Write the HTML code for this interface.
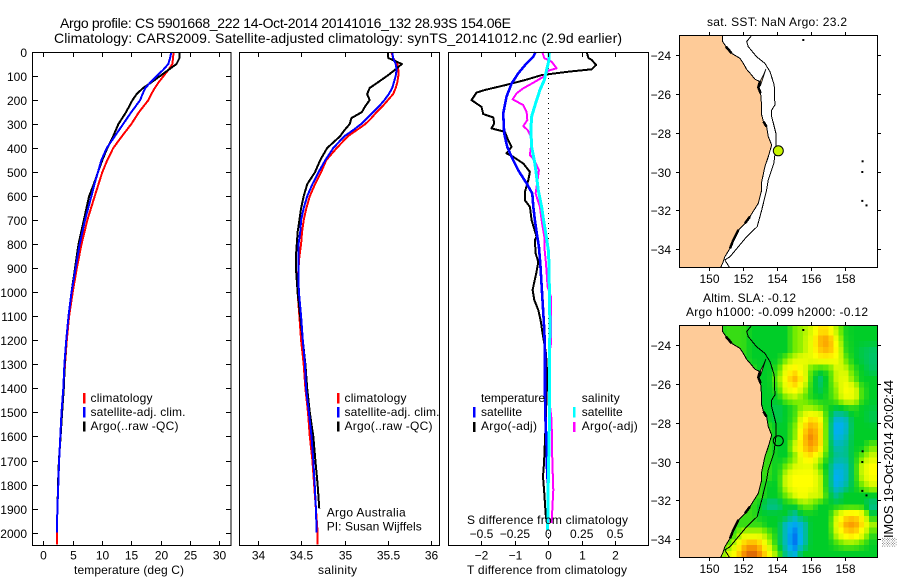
<!DOCTYPE html>
<html lang="en">
<head>
<meta charset="utf-8">
<title>Argo profile</title>
<style>
html,body{margin:0;padding:0;background:#fff;}
svg{display:block;}
text{font-family:"Liberation Sans",sans-serif;font-size:12px;fill:#000;}
</style>
</head>
<body>
<svg id="fig" xmlns="http://www.w3.org/2000/svg" width="900" height="580" viewBox="0 0 900 580">
<defs>
  <clipPath id="clipMapA"><rect x="679.5" y="35.5" width="198" height="232"/></clipPath>
  <clipPath id="clipMapB"><rect x="679.5" y="325.5" width="198" height="232"/></clipPath>
</defs>
<rect width="900" height="580" fill="#fff"/>

<text x="60" y="28" style="font-size:14px" textLength="451">Argo profile: CS 5901668_222 14-Oct-2014 20141016_132 28.93S 154.06E</text>
<text x="54" y="43" style="font-size:14px" textLength="568">Climatology: CARS2009. Satellite-adjusted climatology: synTS_20141012.nc (2.9d earlier)</text>

<g id="panelT"></g>
<g id="panelS"></g>
<g id="panelD"></g>
<g id="mapA"></g>
<g id="mapB"></g>

<text x="74" y="574" textLength="110">temperature (deg C)</text>
<text x="318" y="574" textLength="39">salinity</text>
<text x="467" y="574" textLength="160">T difference from climatology</text>
<text x="467" y="524" textLength="161">S difference from climatology</text>

<g>
  <rect x="83" y="393" width="2.5" height="10.5" fill="#f00"/>
  <rect x="83" y="407" width="2.5" height="10.5" fill="#00f"/>
  <rect x="83" y="421.5" width="2.5" height="10" fill="#000"/>
  <text x="90.5" y="402" textLength="62">climatology</text>
  <text x="90.5" y="416" textLength="95">satellite-adj. clim.</text>
  <text x="90.5" y="430" textLength="88">Argo(..raw -QC)</text>
</g>
<g>
  <rect x="337" y="393" width="2.5" height="10.5" fill="#f00"/>
  <rect x="337" y="407" width="2.5" height="10.5" fill="#00f"/>
  <rect x="337" y="421.5" width="2.5" height="10" fill="#000"/>
  <text x="344.5" y="402" textLength="62">climatology</text>
  <text x="344.5" y="416" textLength="95">satellite-adj. clim.</text>
  <text x="344.5" y="430" textLength="88">Argo(..raw -QC)</text>
</g>
<text x="326.7" y="516.5" textLength="79">Argo Australia</text>
<text x="326.7" y="530.5" textLength="95">PI: Susan Wijffels</text>
<g>
  <text x="481" y="402" textLength="64">temperature</text>
  <text x="581.7" y="402" textLength="38">salinity</text>
  <rect x="473" y="407" width="2.5" height="10.5" fill="#00f"/>
  <rect x="473" y="422" width="2.5" height="10" fill="#000"/>
  <rect x="573" y="407" width="2.5" height="10.5" fill="#0ff"/>
  <rect x="573" y="422" width="2.5" height="10" fill="#f0f"/>
  <text x="481" y="416" textLength="41">satellite</text>
  <text x="481" y="430" textLength="56">Argo(-adj)</text>
  <text x="581.7" y="416" textLength="41">satellite</text>
  <text x="581.7" y="430" textLength="56">Argo(-adj)</text>
</g>

<text x="707" y="26" textLength="140">sat. SST: NaN  Argo: 23.2</text>
<text x="703" y="302" textLength="93">Altim. SLA: -0.12</text>
<text x="686" y="316" textLength="182">Argo h1000: -0.099 h2000: -0.12</text>
<text transform="translate(893,547) rotate(-90)" textLength="167" style="font-size:13px">░IMOS 19-Oct-2014 20:02:44</text>

<script>
// ---------- profile data ----------
const tempDepths = [0,25,50,75,100,125,150,175,200,250,300,350,400,450,500,550,600,700,800,900,1000,1100,1200,1300,1400,1500,1600,1700,1800,1900,2000,2050];
const tempClim   = [22.2,22.1,22.0,21.3,20.5,19.7,19.0,18.4,17.9,16.3,15.0,13.4,11.9,10.9,10.05,9.4,8.75,7.5,6.5,5.7,5.0,4.4,4.0,3.7,3.45,3.1,2.9,2.7,2.55,2.4,2.3,2.3];
const tempSat    = [21.8,21.6,21.3,20.4,19.3,18.3,17.4,16.9,16.5,15.0,13.6,12.2,10.8,9.9,9.3,8.7,8.2,7.1,6.2,5.5,4.8,4.3,3.9,3.6,3.4,3.1,2.9,2.7,2.55,2.4,2.3,null];
const tempArgo   = [23.2,23.2,22.7,21.3,19.9,18.5,17.0,15.9,15.2,14.1,12.8,11.9,10.9,10.05,9.3,8.6,7.8,6.9,6.0,5.4,4.8,4.3,3.9,3.65,3.5,3.2,2.95,2.65,2.5,2.42,null,null];
const tempTicks  = [0,5,10,15,20,25,30];
const depthTicks = [0,100,200,300,400,500,600,700,800,900,1000,1100,1200,1300,1400,1500,1600,1700,1800,1900,2000];

const salDepths = [0,25,50,75,100,125,150,175,200,225,250,275,300,325,350,400,450,500,550,600,650,700,750,800,850,900,950,1000,1100,1200,1300,1400,1500,1600,1700,1800,1900,2000,2050];
const salClim   = [35.54,35.56,35.61,35.62,35.62,35.61,35.59,35.56,35.5,35.44,35.37,35.31,35.24,35.14,35.04,34.91,34.79,34.73,34.66,34.6,34.56,34.53,34.51,34.5,34.48,34.47,34.46,34.46,34.48,34.5,34.53,34.55,34.58,34.6,34.63,34.65,34.67,34.69,34.69];
const salSat    = [35.55,35.56,35.59,35.6,35.59,35.57,35.55,35.51,35.46,35.4,35.33,35.26,35.19,35.1,35.0,34.87,34.78,34.70,34.63,34.57,34.53,34.5,34.49,34.47,34.47,34.47,34.47,34.475,34.5,34.52,34.545,34.556,34.59,34.62,34.64,34.657,34.67,34.68,null];
const salArgo   = [35.5,35.505,35.66,35.58,35.49,35.39,35.29,35.26,35.29,35.24,35.2,35.08,35.06,35.0,34.95,34.8,34.72,34.66,34.57,34.53,34.5,34.48,34.46,34.45,34.44,34.44,34.45,34.46,34.49,34.52,34.55,34.57,34.6,34.64,34.665,34.69,34.71,null,null];
const salTicks  = [34,34.5,35,35.5,36];
const salTickLabels = ["34","34.5","35","35.5","36"];

const dtArgoDepths = [0,25,33,54,72,82,96,117,138,158,169,200,228,258,272,297,318,332,367,394,422,436,464,499,533,582,617,644,700,769,783,838,873,914,990,1032,1074,1116,1172,1255,1352,1500,1615,1712,1767,1836,1920,1955];
const dtArgo       = [1.15,1.2,1.3,1.43,1.3,0.6,-0.2,-0.7,-1.3,-1.9,-2.15,-2.3,-2,-1.95,-1.65,-1.62,-1.7,-1.3,-1.2,-1.1,-1.25,-1.05,-0.75,-0.55,-0.6,-0.7,-0.7,-0.55,-0.5,-0.35,-0.4,-0.38,-0.3,-0.35,-0.47,-0.42,-0.3,-0.23,-0.17,-0.07,-0.03,-0.07,-0.1,-0.13,-0.16,-0.12,-0.08,-0.05];
const dtSatDepths  = [0,19,47,89,131,186,256,339,394,436,492,547,589,644,700,769,810,880,1019,1157,1254,1435,1545,1642,1698,1781,1955];
const dtSat        = [-0.38,-0.45,-0.65,-0.9,-1.1,-1.25,-1.35,-1.32,-1.23,-1.1,-0.9,-0.65,-0.48,-0.45,-0.4,-0.33,-0.28,-0.24,-0.18,-0.12,-0.1,-0.1,-0.08,-0.05,-0.05,-0.02,0];
const dsArgoDepths = [0,26,40,68,78,103,124,151,172,197,221,249,283,308,325,353,394,429,450,492,533,589,644,700,769,810,880,977,1019,1213,1254,1448,1531,1698,1823,1961];
const dsArgo       = [-0.045,-0.03,0.025,0.0625,0,-0.0375,-0.1,-0.1875,-0.2375,-0.2675,-0.1875,-0.1625,-0.1575,-0.1875,-0.155,-0.13,-0.13,-0.1375,-0.105,-0.07,-0.08,-0.095,-0.0625,-0.05,-0.03,-0.03,-0.0175,-0.005,0.02,0.02,0.0075,0.0075,0.025,0.03,0.0375,0.025];
const dsSatDepths  = [0,33,75,117,158,214,269,325,394,464,519,575,644,700,769,824,880,977,1157,1254,1435,1504,1781,1989];
const dsSat        = [0.0075,0.005,-0.0125,-0.03,-0.0625,-0.095,-0.125,-0.13,-0.125,-0.1,-0.0875,-0.075,-0.05,-0.035,-0.015,0,0.005,0.0075,0.0125,0.0075,0.0075,0.01,0,-0.005];
const dtTicks = [-2,-1,0,1,2];
const dtTickLabels = ["−2","−1","0","1","2"];
const dsTicks = [-0.5,-0.25,0,0.25,0.5];
const dsTickLabels = ["−0.5","−0.25","0","0.25","0.5"];

// ---------- map data ----------
const lonTicks = [150,152,154,156,158];
const latTicks = [-24,-26,-28,-30,-32,-34];
const coastLon = [150.76,150.78,150.98,151.31,151.80,152.0,152.2,152.49,152.69,152.98,152.88,153.02,153.08,153.08,153.18,153.37,153.47,153.67,153.47,153.27,153.08,153.08,152.88,152.63,152.39,152.10,151.71,151.41,151.22,150.92,150.78,150.67];
const coastLat = [-22.99,-23.31,-23.57,-23.91,-24.17,-24.43,-24.74,-25.03,-25.25,-25.37,-25.66,-25.97,-26.66,-27.09,-27.43,-27.69,-28.2,-28.63,-29.23,-29.75,-30.52,-30.95,-31.63,-31.98,-32.32,-32.66,-33.0,-33.52,-33.95,-34.38,-34.72,-34.93];
const roughStart = [2,9,14,24,26];
const roughEnd   = [3,11,15,25,28];
const islandLon = [153.33,153.15,153.0,153.02,153.2];
const islandLat = [-24.72,-25.2,-25.6,-25.3,-25.0];
const contourLon = [152.49,152.2,152.29,152.78,153.27,153.57,153.82,153.86,153.67,153.67,153.92,153.92,153.8,153.47,153.37,153.08,152.82,152.2,151.71,151.22,150.92,151.18];
const contourLat = [-22.99,-23.31,-23.57,-24.09,-24.43,-24.86,-25.54,-26.57,-26.83,-27.17,-28.03,-28.72,-29.57,-30.43,-30.95,-31.98,-32.83,-33.35,-33.86,-34.38,-34.55,-34.93];
const dotLon = [155.53,159.02,159.0,159.0,159.25];
const dotLat = [-23.23,-29.47,-30.02,-31.51,-31.74];
const argoLon = 154.06;
const argoLat = -28.93;

// SLA colour level at 0.5 deg nodes (rows -23.25 to -34.75, columns 148.5 to 159.5)
const slaLon0 = 148.5;
const slaLat0 = -23.25;
const slaStep = 0.5;
const slaRows = [
[3,3,3,3,3,3.5,3.5,3.5,3,3,3, 3,3,4,4.5,5, 6.5,6.5,4.5,3.2, 3,3,3],
[3,3,3,3,3,3.5,3.5,3.5,3,3,3, 3,3,4,4.5,5.5, 7.5,8,5.5,3.3, 3,3,3],
[3,3,3,3,3,3.5,3.5,3.5,3,3,3, 3,3,4,4.5,5.5, 7,7.5,6,3.5, 3,2.7,2.5],
[3,3,3,3,3,3.5,3.5,3.5,3,3,3, 3,4,5,5.5,5.5, 6,6,5.8,4, 3,2.7,2.4],
[3,3,3,3,3,3.5,3.5,3.5,3.5,3,3, 3.5,5.5,6.5,5.5,3.8, 3.2,3.5,5,5, 3.5,3,2.5],
[3,3,3,3,3,3.5,3.5,3.5,3.5,3,3, 4,6,7.5,6,3.5, 2.3,3.3,5,5.5, 4,3,3],
[3,3,3,3,3,3.5,3.5,3.5,3.5,3,3, 3.5,5.5,6.5,5,3.3, 2.5,3.3,4.5,6, 5.5,3.5,3],
[3,3,3,3,3,3.5,3.5,3.5,3.5,3,3, 3,4,4.5,4,3.3, 3,3.3,4.2,5.5, 5.5,3.5,3],
[3,3,3,3,3,3.5,3.5,3.5,3.5,3,3, 2.6,3,3.5,4.5,4.5, 4,3.2,2.8,3.2, 3.5,3,2.8],
[3,3,3,3,3,3.5,3.5,3.5,3.5,3,3, 2.6,3,3.5,5.5,6.5, 6,3,1.3,1.6, 3,3,2.6],
[3,3,3,3,3,3.5,3.5,3.5,3.5,3.5,3.5, 3,3,4,6.5,7.8, 7,2.8,0.7,1.2, 3,3,3],
[3,3,3,3,3,3.5,3.5,3.5,3.5,3.5,3.5, 3,3,4,7,8.3, 7,2.8,1,1.6, 3,3,3],
[3,3,3,3,3,3.5,3.5,3.5,3.5,3.5,3.5, 3,3,5,7,8, 7,3,1.6,2, 3,3,4],
[3,3,3,3,3,3.5,3.5,3.5,3.5,3.5,3.5, 3,3,4,6,6.5, 5,3,2,2, 3,4,5],
[3,3,3,3,3,3.5,3.5,3.5,3.5,3.5,3.5, 3,4,5,5.5,5.5, 4,2.6,1.2,1.5, 3,5,6],
[3,3,3,3,3,3.5,3.5,3.5,3.5,3.5,3.5, 3,5,6,6,6, 5,2.6,0.8,1.4, 3,5,6],
[3,3,3,3,3,3.5,3.5,3.5,3.5,3.5,3, 3,5,6,6,6, 5,2.6,1,1.8, 3,4,5],
[3,3,3,3,3,3.5,3.5,3.5,3.5,3.5,3, 3,4,5,6,5, 5,3,2,3, 3,3,3],
[3,3,3,3,3,3.5,3.5,3.5,3.5,3,2, 2,3,3,4,4, 3,3,3,3, 3,3,2],
[3,3,3,3,3,3.5,3.5,3.5,3.5,3,3, 3,3,1.8,3,3, 3,3,5,6.5, 7,6,3],
[3,3,3,3,3,3.5,3.5,3.5,3.5,3.5,3, 3,1.5,0.8,1.5,3, 3,3,5.5,7.5, 8,6.5,4.5],
[3,3,3,3,3,3.5,3.5,5,5,5,4, 3,1.5,0,1.5,3, 3,3,5,6.5, 7,5.5,3.5],
[3,3,3,3,3,3.5,5,7,8,7,5, 3,1.5,0,1.5,3, 3,3,3.5,4, 4,3.5,3],
[3,3,3,3,3,5,6,8,9,8,6, 4,2,1,3,3, 3,3,3,3, 3,3,3]
];
const slaPalette = [[0,110,240],[0,175,240],[0,190,150],[0,205,40],[110,235,0],[215,250,0],[255,255,0],[255,205,0],[250,150,0],[210,90,10]];

// ---------- drawing helpers ----------
const NS = "http://www.w3.org/2000/svg";
function make(parent, tag, attrs, name) {
  const el = document.createElementNS(NS, tag);
  for (const k in attrs) el.setAttribute(k, attrs[k]);
  
  
  parent.appendChild(el);
  return el;
}
function label(parent, x, y, str, anchor, name) {
  const el = make(parent, 'text', {x: x, y: y, 'text-anchor': anchor}, name);
  el.textContent = str;
  return el;
}
function trace(parent, xs, ys, scaleX, scaleY, color, width, name) {
  const pts = [];
  xs.forEach((v, i) => { if (v !== null) pts.push(scaleX(v).toFixed(1) + "," + scaleY(ys[i]).toFixed(1)); });
  return make(parent, 'polyline', {points: pts.join(" "), fill: 'none', stroke: color, 'stroke-width': width, 'stroke-linejoin': 'round', 'shape-rendering': 'crispEdges'}, name);
}
function seg(parent, x1, y1, x2, y2, name) {
  return make(parent, 'line', {x1: x1, y1: y1, x2: x2, y2: y2, stroke: '#000', 'stroke-width': 1, 'shape-rendering': 'crispEdges'}, name);
}
function frame(parent, x, y, w, h, name) {
  return make(parent, 'rect', {x: x, y: y, width: w, height: h, fill: 'none', stroke: '#000', 'stroke-width': 1, 'shape-rendering': 'crispEdges'}, name);
}
function slaLevelAt(lon, lat) {
  const fx = Math.max(0, Math.min(slaRows[0].length - 1.001, (lon - slaLon0) / slaStep));
  const fy = Math.max(0, Math.min(slaRows.length - 1.001, (slaLat0 - lat) / slaStep));
  const ix = Math.floor(fx), iy = Math.floor(fy), tx = fx - ix, ty = fy - iy;
  const top = slaRows[iy][ix] * (1 - tx) + slaRows[iy][ix + 1] * tx;
  const bot = slaRows[iy + 1][ix] * (1 - tx) + slaRows[iy + 1][ix + 1] * tx;
  return top * (1 - ty) + bot * ty;
}
function slaColor(level) {
  const i = Math.max(0, Math.min(slaPalette.length - 2, Math.floor(level))), t = level - i;
  const a = slaPalette[i], b = slaPalette[i + 1];
  return 'rgb(' + a.map((c, k) => Math.round(c + (b[k] - c) * t)).join(',') + ')';
}

// ---------- profile panels ----------
const pTop = 52, pBottom = 545;
const depthY = d => 52 + d * 0.2403;

// temperature
const gT = document.getElementById('panelT');
const tempX = v => 43.3 + v * 5.87;
trace(gT, tempClim, tempDepths, tempX, depthY, '#f00', 2, 'temperature-climatology-line');
trace(gT, tempArgo, tempDepths, tempX, depthY, '#000', 2, 'temperature-argo-line');
trace(gT, tempSat, tempDepths, tempX, depthY, '#00f', 2, 'temperature-satellite-line');
frame(gT, 32.5, pTop + 0.5, 198.5, pBottom - pTop, 'temperature-plot-frame');
depthTicks.forEach(d => {
  const y = Math.round(depthY(d)) + 0.5;
  seg(gT, 32.5, y, 38, y, 'depth-tick');
  seg(gT, 226, y, 231, y, 'depth-tick');
  label(gT, 27, y + 4.5, String(d), 'end', 'depth-tick-label');
});
tempTicks.forEach(v => {
  const x = Math.round(tempX(v)) + 0.5;
  seg(gT, x, pTop, x, pTop + 5, 'temperature-tick');
  seg(gT, x, pBottom - 4, x, pBottom, 'temperature-tick');
  label(gT, x, 559.5, String(v), 'middle', 'temperature-tick-label');
});

// salinity
const gS = document.getElementById('panelS');
const salX = v => 257.7 + (v - 34) * 86.8;
trace(gS, salClim, salDepths, salX, depthY, '#f00', 2, 'salinity-climatology-line');
trace(gS, salArgo, salDepths, salX, depthY, '#000', 2, 'salinity-argo-line');
trace(gS, salSat, salDepths, salX, depthY, '#00f', 2, 'salinity-satellite-line');
frame(gS, 239.5, pTop + 0.5, 200, pBottom - pTop, 'salinity-plot-frame');
salTicks.forEach((v, i) => {
  const x = Math.round(salX(v)) + 0.5;
  seg(gS, x, pTop, x, pTop + 5, 'salinity-tick');
  seg(gS, x, pBottom - 4, x, pBottom, 'salinity-tick');
  label(gS, x, 559.5, salTickLabels[i], 'middle', 'salinity-tick-label');
});

// differences
const gD = document.getElementById('panelD');
const dtX = v => 548.3 + v * 33.4;
const dsX = v => 548.3 + v * 133.6;
make(gD, 'line', {x1: 548.5, y1: 53, x2: 548.5, y2: 545, stroke: '#000', 'stroke-width': 1, 'stroke-dasharray': '1 4', 'shape-rendering': 'crispEdges'}, 'zero-reference-line');
trace(gD, dtArgo, dtArgoDepths, dtX, depthY, '#000', 2, 't-difference-argo-line');
trace(gD, dtSat, dtSatDepths, dtX, depthY, '#00f', 2.6, 't-difference-satellite-line');
trace(gD, dsArgo, dsArgoDepths, dsX, depthY, '#f0f', 2, 's-difference-argo-line');
trace(gD, dsSat, dsSatDepths, dsX, depthY, '#0ff', 3, 's-difference-satellite-line');
frame(gD, 448.5, pTop + 0.5, 200, pBottom - pTop, 'difference-plot-frame');
dtTicks.forEach((v, i) => {
  const x = Math.round(dtX(v)) + 0.5;
  seg(gD, x, pTop, x, pTop + 5, 't-difference-tick');
  seg(gD, x, pBottom - 4, x, pBottom, 't-difference-tick');
  label(gD, x, 559.5, dtTickLabels[i], 'middle', 't-difference-tick-label');
});
dsTicks.forEach((v, i) => {
  label(gD, dsX(v), 538, dsTickLabels[i], 'middle', 's-difference-tick-label');
});

// ---------- maps ----------
function drawMap(g, top, lat24Y, clipId, withField) {
  const lonX = lon => 709.3 + (lon - 150) * 17;
  const latY = lat => lat24Y + (-24 - lat) * 19.43;
  const inner = make(g, 'g', {'clip-path': 'url(#' + clipId + ')'}, 'map-area');
  if (withField) {
    const field = make(inner, 'g', {'shape-rendering': 'crispEdges'}, 'sla-field');
    const cellLon = 0.3, cellLat = 0.3;
    for (let lat = -22.9; lat > -35.1; lat -= cellLat) {
      for (let lon = 150.4; lon < 160.1; lon += cellLon) {
        const x0 = lonX(lon), y0 = latY(lat);
        make(field, 'rect', {x: x0.toFixed(1), y: y0.toFixed(1), width: (cellLon * 17 + 0.5).toFixed(1), height: (cellLat * 19.43 + 0.5).toFixed(1), fill: slaColor(slaLevelAt(lon + cellLon / 2, lat - cellLat / 2))}, 'sla-cell');
      }
    }
  }
  const coastPts = coastLon.map((v, i) => lonX(v).toFixed(1) + ',' + latY(coastLat[i]).toFixed(1));
  make(inner, 'polygon', {points: coastPts.concat(['679,' + (top + 233), '679,' + (top - 1)]).join(' '), fill: '#fecb98', stroke: 'none'}, 'land');
  make(inner, 'polyline', {points: coastPts.join(' '), fill: 'none', stroke: '#000', 'stroke-width': 1, 'shape-rendering': 'crispEdges'}, 'coastline');
  roughStart.forEach((s, k) => {
    make(inner, 'polyline', {points: coastPts.slice(s, roughEnd[k] + 1).join(' '), fill: 'none', stroke: '#000', 'stroke-width': 2.5, 'shape-rendering': 'crispEdges'}, 'coastal-rough-patch');
  });
  make(inner, 'polygon', {points: islandLon.map((v, i) => lonX(v).toFixed(1) + ',' + latY(islandLat[i]).toFixed(1)).join(' '), fill: '#fecb98', stroke: '#000', 'stroke-width': 0.8}, 'fraser-island');
  make(inner, 'polyline', {points: contourLon.map((v, i) => lonX(v).toFixed(1) + ',' + latY(contourLat[i]).toFixed(1)).join(' '), fill: 'none', stroke: '#000', 'stroke-width': 1, 'shape-rendering': 'crispEdges'}, 'depth-contour');
  dotLon.forEach((v, i) => {
    make(inner, 'rect', {x: (lonX(v) - 1).toFixed(1), y: (latY(dotLat[i]) - 1).toFixed(1), width: 2, height: 2, fill: '#000'}, 'island-dot');
  });
  make(inner, 'circle', {cx: lonX(argoLon).toFixed(1), cy: latY(argoLat).toFixed(1), r: 5, fill: withField ? 'none' : '#c8f500', stroke: '#000', 'stroke-width': 1}, 'argo-position-marker');
  frame(g, 679.5, top + 0.5, 198, 232, 'map-frame');
  lonTicks.forEach(v => {
    const x = Math.round(lonX(v)) + 0.5;
    seg(g, x, top - 3, x, top, 'longitude-tick');
    seg(g, x, top + 233, x, top + 236, 'longitude-tick');
    label(g, x, top + 248, String(v), 'middle', 'longitude-tick-label');
  });
  latTicks.forEach(v => {
    const y = Math.round(latY(v)) + 0.5;
    seg(g, 676, y, 679, y, 'latitude-tick');
    seg(g, 878, y, 881, y, 'latitude-tick');
    label(g, 671, y + 4.5, '−' + Math.abs(v), 'end', 'latitude-tick-label');
  });
}
drawMap(document.getElementById('mapA'), 35, 55, 'clipMapA', false);
drawMap(document.getElementById('mapB'), 325, 345, 'clipMapB', true);
</script>
</svg>
</body>
</html>
